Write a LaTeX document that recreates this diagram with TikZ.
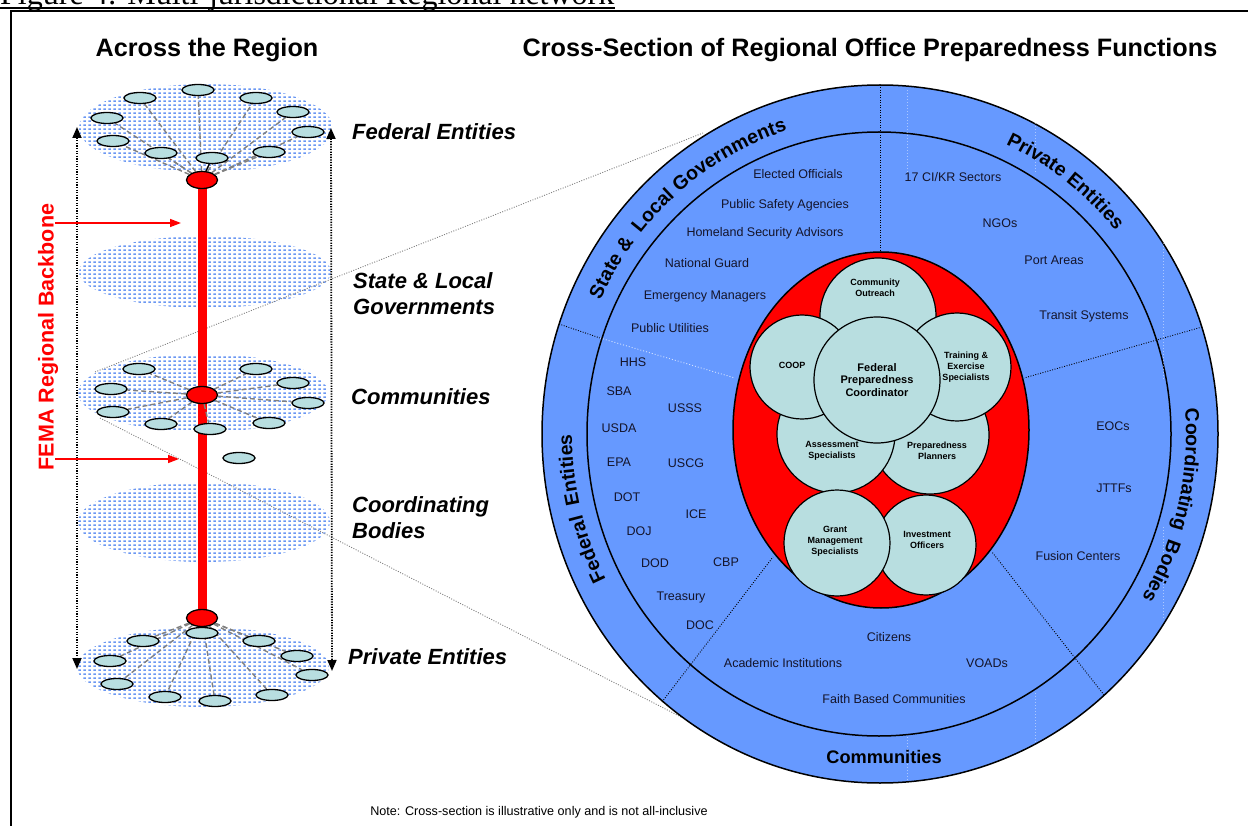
\documentclass[tikz,border=0pt]{standalone}
\usepackage{fontspec}
\setmainfont{Liberation Sans}
\newfontfamily\capserif{Liberation Serif}
\usetikzlibrary{shapes.geometric,decorations.text,patterns.meta,arrows.meta}

\definecolor{ringblue}{HTML}{6699FF}
\definecolor{cellblue}{HTML}{B8DEE0}
\definecolor{layerblue}{HTML}{6A97F2}
\definecolor{inktext}{HTML}{14142A}

\newcommand\bandfont{\bfseries\fontsize{19.5}{22}\selectfont}
\newcommand\bandgap{\kern5pt}

% small blue dashes used to shade each level of the region
\tikzdeclarepattern{
  name=layerdots,
  type=colored,
  bounding box={(0pt,0pt) and (4.6pt,4.4pt)},
  tile size={(4.6pt,4.4pt)},
  code={\fill[layerblue] (0.5pt,1.3pt) rectangle (3.1pt,3.0pt);}
}

\pgfdeclarelayer{back}
\pgfdeclarelayer{mid}
\pgfsetlayers{back,mid,main}

\begin{document}
\begin{tikzpicture}[x=1pt, y=-1pt,
  cell/.style={circle, draw=black, line width=1.2pt, fill=cellblue, inner sep=0pt},
  celltext/.style={font=\bfseries\fontsize{9}{11}\selectfont, align=center, inner sep=0pt},
  member/.style={ellipse, draw=black, line width=1.3pt, fill=cellblue, minimum width=32pt, minimum height=11pt, inner sep=0pt},
  hub/.style={ellipse, draw=black, line width=1.3pt, fill=red, minimum width=31pt, minimum height=17pt, inner sep=0pt},
  connector/.style={draw=gray, line width=1.4pt, dash pattern=on 5pt off 3pt},
  layerfill/.style={pattern=layerdots},
  ringtext/.style={font=\fontsize{12.5}{14}\selectfont, text=inktext, inner sep=0pt, text height=9pt, text depth=0pt},
  layerlabel/.style={font=\bfseries\itshape\fontsize{22}{26}\selectfont, anchor=west, align=left, inner sep=0pt},
  headline/.style={font=\bfseries\fontsize{25.2}{28}\selectfont, inner sep=0pt},
  divider/.style={draw=black, line width=0.9pt, dash pattern=on 0.9pt off 1.6pt},
  faint/.style={draw=white, opacity=0.45, line width=0.8pt, dash pattern=on 1pt off 2pt},
  persp/.style={draw=gray, line width=0.9pt, dash pattern=on 1pt off 1.5pt},
  spanline/.style={draw=black, line width=1.8pt, dash pattern=on 1.3pt off 1.3pt, {Triangle[width=9pt,length=11pt]}-{Triangle[width=9pt,length=11pt]}},
  feedarrow/.style={draw=red, line width=1.5pt, -{Triangle[width=8pt,length=11pt]}},
  bandlabel/.style={decorate, decoration={text along path, text align=center, text={|\bandfont|#1}}}
]
\useasboundingbox (0,0) rectangle (1248,826);

% ---------- caption and frame ----------
\node[font=\capserif\fontsize{32}{34}\selectfont, anchor=base west, inner sep=0pt] (caption) at (0,5) {Figure 4: Multi-jurisdictional Regional network};
\draw[line width=1.4pt] ([yshift=-3pt]caption.base west) -- ([yshift=-3pt]caption.base east);
\draw[line width=2pt] (11,850) -- (11,11) -- (1260,11);

% ---------- headings ----------
\node[headline] (leftTitle) at (207,50) {Across the Region};
\node[headline] (rightTitle) at (870,50) {Cross-Section of Regional Office Preparedness Functions};

% ---------- shaded levels and perspective lines ----------
\begin{pgfonlayer}{back}
  \fill[layerfill] (206,128) ellipse [x radius=127, y radius=44];
  \fill[layerfill] (205,272) ellipse [x radius=126, y radius=36];
  \fill[layerfill] (203,393) ellipse [x radius=125, y radius=39];
  \fill[layerfill] (204,522) ellipse [x radius=126, y radius=40];
  \fill[layerfill] (203,667) ellipse [x radius=126, y radius=40];
  \coordinate (pa) at (95,372);
  \coordinate (pb) at (703,133);
  \coordinate (pc) at (100,418);
  \coordinate (pd) at (681,717);
  \draw[persp] (pa) -- (pb);
  \draw[persp] (pc) -- (pd);
\end{pgfonlayer}

% ---------- hubs on the backbone ----------
\node[hub] (h1) at (202,180) {};
\node[hub] (h2) at (202,395) {};
\node[hub] (h3) at (202,618) {};

% federal level members
\node[member] (t1) at (198,90) {};
\node[member] (t2) at (140,98) {};
\node[member] (t3) at (256,98) {};
\node[member] (t4) at (107,118) {};
\node[member] (t5) at (293,112) {};
\node[member] (t6) at (113,141) {};
\node[member] (t7) at (308,132) {};
\node[member] (t8) at (161,153) {};
\node[member] (t9) at (212,158) {};
\node[member] (t10) at (269,152) {};

% community level members
\node[member] (m1) at (139,369) {};
\node[member] (m2) at (256,369) {};
\node[member] (m3) at (111,389) {};
\node[member] (m4) at (293,383) {};
\node[member] (m5) at (113,412) {};
\node[member] (m6) at (308,403) {};
\node[member] (m7) at (161,424) {};
\node[member] (m8) at (210,429) {};
\node[member] (m9) at (269,423) {};
\node[member] (m10) at (239,458) {};

% private level members
\node[member] (b1) at (202,633) {};
\node[member] (b2) at (143,641) {};
\node[member] (b3) at (259,641) {};
\node[member] (b4) at (110,661) {};
\node[member] (b5) at (297,656) {};
\node[member] (b6) at (117,684) {};
\node[member] (b7) at (312,675) {};
\node[member] (b8) at (165,697) {};
\node[member] (b9) at (215,701) {};
\node[member] (b10) at (272,695) {};

\begin{pgfonlayer}{mid}
  \draw[red, line width=9pt] (h1.center) -- (h3.center);
  \foreach \k in {1,...,10} \draw[connector] (h1) -- (t\k);
  \foreach \k in {1,...,9} \draw[connector] (h2) -- (m\k);
  \foreach \k in {1,...,10} \draw[connector] (h3) -- (b\k);
  \draw[line width=1.3pt] (t9) -- (h1);
\end{pgfonlayer}

% ---------- span arrows ----------
\coordinate (vl1) at (77,127);  \coordinate (vl2) at (77,669);
\coordinate (vr1) at (331,128); \coordinate (vr2) at (332,671);
\draw[spanline] (vl1) -- (vl2);
\draw[spanline] (vr1) -- (vr2);

% ---------- backbone label and feeds ----------
\node[rotate=90, text=red, font=\bfseries\fontsize{21.5}{24}\selectfont, inner sep=0pt] (fema) at (48,337) {FEMA Regional Backbone};
\coordinate (fa1) at (55,223);  \coordinate (fa2) at (181,223);
\coordinate (fb1) at (55,459);  \coordinate (fb2) at (179,459);
\draw[feedarrow] (fa1) -- (fa2);
\draw[feedarrow] (fb1) -- (fb2);

% ---------- level labels ----------
\node[layerlabel] (lbFed) at (352,132) {Federal Entities};
\node[layerlabel] (lbState) at (353,294) {State \& Local\\Governments};
\node[layerlabel] (lbComm) at (351,397) {Communities};
\node[layerlabel] (lbCoord) at (352,518) {Coordinating\\Bodies};
\node[layerlabel] (lbPriv) at (348,657) {Private Entities};

% ---------- cross-section rings ----------
\draw[fill=ringblue, line width=1.5pt] (880,434) ellipse [x radius=338, y radius=349];
\draw[line width=1.5pt] (879,434) ellipse [x radius=292, y radius=302];

\draw[faint] (907,90) -- (907,172);
\draw[faint] (1035,120) -- (1035,173);
\draw[faint] (1163,243) -- (1163,380);
\draw[faint] (1163,527) -- (1163,620);
\draw[faint] (907,737) -- (907,781);
\draw[faint] (1035,693) -- (1035,743);

\draw[divider] (880,85) -- (880,253);
\draw[divider] (1202,327) -- (1024,378);
\draw[divider] (1104,695) -- (992,552);
\draw[divider] (662,702) -- (773,557);
\draw[divider] (559,324) -- (600,338);
\draw[draw=white!70!ringblue, line width=0.9pt, dash pattern=on 1pt off 2pt] (600,338) -- (735,378);

\draw[fill=red, line width=1.5pt] (881,430) ellipse [x radius=148, y radius=178];

% ---------- regional office functions ----------
\node[cell, minimum size=118pt] (pp) at (930,435) {};
\node[cell, minimum size=118pt] (as) at (836,434) {};
\node[cell, minimum size=116pt] (co) at (878,316) {};
\node[cell, minimum size=104pt] (coop) at (802,367) {};
\node[cell, minimum size=108pt] (tr) at (957,367) {};
\node[cell, minimum size=126pt, font=\bfseries\fontsize{11}{12.5}\selectfont, align=center] (fpc) at (877,380) {Federal\\Preparedness\\Coordinator};
\node[cell, minimum size=100pt] (io) at (926,545) {};
\node[cell, minimum size=106pt] (gm) at (837,543) {};

\node[celltext] (coL) at (875,288) {Community\\Outreach};
\node[celltext] (coopL) at (792,365) {COOP};
\node[celltext] (trL) at (966,367) {Training \&\\Exercise\\Specialists};
\node[celltext] (asL) at (832,451) {Assessment\\Specialists};
\node[celltext] (ppL) at (937,451) {Preparedness\\Planners};
\node[celltext] (gmL) at (835,541) {Grant\\Management\\Specialists};
\node[celltext] (ioL) at (927,540) {Investment\\Officers};

% ---------- members of each sector ----------
\node[ringtext] (s1) at (798,174) {Elected Officials};
\node[ringtext] (s2) at (785,204) {Public Safety Agencies};
\node[ringtext] (s3) at (765,232) {Homeland Security Advisors};
\node[ringtext] (s4) at (707,263) {National Guard};
\node[ringtext] (s5) at (705,295) {Emergency Managers};
\node[ringtext] (s6) at (670,328) {Public Utilities};
\node[ringtext] (p1) at (953,177) {17 CI/KR Sectors};
\node[ringtext] (p2) at (1000,223) {NGOs};
\node[ringtext] (p3) at (1054,260) {Port Areas};
\node[ringtext] (p4) at (1084,315) {Transit Systems};
\node[ringtext] (c1) at (1113,426) {EOCs};
\node[ringtext] (c2) at (1114,488) {JTTFs};
\node[ringtext] (c3) at (1078,556) {Fusion Centers};
\node[ringtext] (k1) at (889,637) {Citizens};
\node[ringtext] (k2) at (783,663) {Academic Institutions};
\node[ringtext] (k3) at (987,663) {VOADs};
\node[ringtext] (k4) at (894,699) {Faith Based Communities};
\node[ringtext] (f1) at (633,362) {HHS};
\node[ringtext] (f2) at (619,391) {SBA};
\node[ringtext] (f3) at (685,408) {USSS};
\node[ringtext] (f4) at (619,428) {USDA};
\node[ringtext] (f5) at (619,462) {EPA};
\node[ringtext] (f6) at (686,463) {USCG};
\node[ringtext] (f7) at (627,497) {DOT};
\node[ringtext] (f8) at (696,514) {ICE};
\node[ringtext] (f9) at (639,531) {DOJ};
\node[ringtext] (f10) at (655,563) {DOD};
\node[ringtext] (f11) at (726,562) {CBP};
\node[ringtext] (f12) at (681,596) {Treasury};
\node[ringtext] (f13) at (700,625) {DOC};

% ---------- sector names along the outer band ----------
\path[bandlabel={State {\&} {\bandgap}Local Governments}] (879,434) ++(-171:307 and 318) arc[start angle=-171, end angle=-91, x radius=307, y radius=318];
\path[bandlabel={Private Entities}] (879,434) ++(-93:307 and 318) arc[start angle=-93, end angle=-13, x radius=307, y radius=318];
\path[bandlabel={Coordinating {\bandgap}Bodies}] (879,434) ++(-26.6:307 and 318) arc[start angle=-26.6, end angle=53.4, x radius=307, y radius=318];
\path[bandlabel={Federal {\bandgap}Entities}] (879,434) ++(126.2:307 and 318) arc[start angle=126.2, end angle=206.2, x radius=307, y radius=318];
\node[font=\bfseries\fontsize{18.2}{20}\selectfont, inner sep=0pt, text height=13pt, text depth=0pt] (bandComm) at (884,757) {Communities};

\node[font=\fontsize{12.6}{14}\selectfont, inner sep=0pt] (note) at (539,812) {Note: Cross-section is illustrative only and is not all-inclusive};
\end{tikzpicture}
\end{document}
